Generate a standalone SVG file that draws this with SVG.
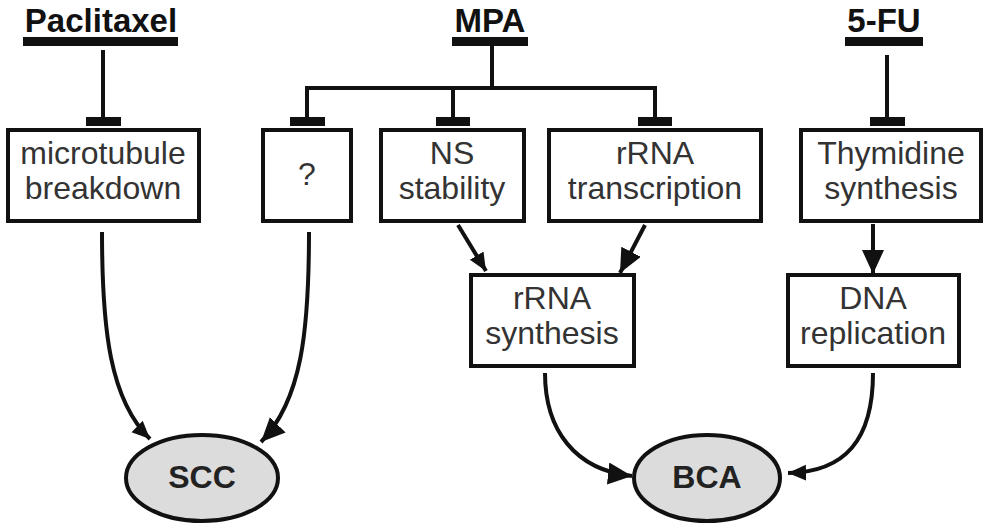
<svg xmlns="http://www.w3.org/2000/svg" width="986" height="525" viewBox="0 0 986 525">
<style>
.bg{fill:#ffffff}
.box{fill:#ffffff;stroke:#111;stroke-width:4}
.ell{fill:#dcdcdc;stroke:#111;stroke-width:4}
.lbl{font-family:"Liberation Sans",Arial,sans-serif;font-size:32px;fill:#333;text-anchor:middle}
.drug{font-family:"Liberation Sans",Arial,sans-serif;font-size:33px;font-weight:bold;fill:#111;text-anchor:middle}
.out{font-family:"Liberation Sans",Arial,sans-serif;font-size:32px;font-weight:bold;fill:#222;text-anchor:middle}
.bar{fill:#111}
.ln{fill:none;stroke:#111;stroke-width:4}
</style>
<defs>
<marker id="arrS" markerUnits="userSpaceOnUse" markerWidth="20" markerHeight="18" refX="18" refY="8" orient="auto"><path d="M0,0 L18,8 L0,16 z" fill="#111"/></marker>
<marker id="arrL" markerUnits="userSpaceOnUse" markerWidth="26" markerHeight="24" refX="24" refY="11" orient="auto"><path d="M0,0 L24,11 L0,22 z" fill="#111"/></marker>
</defs>
<rect class="bg" x="0" y="0" width="986" height="525"/>

<g id="paclitaxel">
<text class="drug" x="101" y="32">Paclitaxel</text>
<rect class="bar" x="23" y="37" width="155" height="9"/>
</g>
<g id="mpa">
<text class="drug" x="490" y="32">MPA</text>
<rect class="bar" x="452" y="37" width="76" height="9"/>
</g>
<g id="fu5">
<text class="drug" x="884" y="32">5-FU</text>
<rect class="bar" x="845" y="37" width="78" height="9"/>
</g>

<g id="microtubule">
<rect class="box" x="8" y="130" width="191" height="91"/>
<text class="lbl" x="103" y="164">microtubule</text>
<text class="lbl" x="103" y="199">breakdown</text>
</g>
<g id="unknown">
<rect class="box" x="263" y="130" width="88" height="91"/>
<text class="lbl" x="307" y="185">?</text>
</g>
<g id="ns">
<rect class="box" x="381" y="130" width="143" height="91"/>
<text class="lbl" x="452" y="164">NS</text>
<text class="lbl" x="452" y="199">stability</text>
</g>
<g id="rrnatx">
<rect class="box" x="549" y="130" width="212" height="91"/>
<text class="lbl" x="655" y="164">rRNA</text>
<text class="lbl" x="655" y="199">transcription</text>
</g>
<g id="thymidine">
<rect class="box" x="801" y="130" width="180" height="91"/>
<text class="lbl" x="891" y="164">Thymidine</text>
<text class="lbl" x="891" y="199">synthesis</text>
</g>
<g id="rrnasyn">
<rect class="box" x="471" y="275" width="163" height="91"/>
<text class="lbl" x="552" y="309">rRNA</text>
<text class="lbl" x="552" y="344">synthesis</text>
</g>
<g id="dnarep">
<rect class="box" x="788" y="275" width="171" height="91"/>
<text class="lbl" x="873" y="309">DNA</text>
<text class="lbl" x="873" y="344">replication</text>
</g>
<g id="scc">
<ellipse class="ell" cx="202" cy="478" rx="76" ry="43"/>
<text class="out" x="202" y="488">SCC</text>
</g>
<g id="bca">
<ellipse class="ell" cx="707" cy="478" rx="73" ry="43"/>
<text class="out" x="707" y="488">BCA</text>
</g>

<g id="connectors">
<path class="ln" d="M103,50 V120"/>
<rect class="bar" x="86" y="117" width="35" height="9"/>
<path class="ln" d="M492,46 V88 M305,88 H657 M307,86 V120 M453,86 V120 M655,86 V120"/>
<rect class="bar" x="290" y="117" width="35" height="9"/>
<rect class="bar" x="436" y="117" width="34" height="9"/>
<rect class="bar" x="638" y="117" width="34" height="9"/>
<path class="ln" d="M887,55 V120"/>
<rect class="bar" x="870" y="117" width="35" height="9"/>
<path class="ln" d="M458,225 L486,271" marker-end="url(#arrS)"/>
<path class="ln" d="M645,225 L620,273" marker-end="url(#arrL)"/>
<path class="ln" d="M873,224 V274" marker-end="url(#arrL)"/>
<path class="ln" d="M102,232 C102,330 110,400 150,439" marker-end="url(#arrS)"/>
<path class="ln" d="M309,232 C309,330 302,400 261,442" marker-end="url(#arrL)"/>
<path class="ln" d="M545,373 C545,430 575,470 632,476" marker-end="url(#arrL)"/>
<path class="ln" d="M873,373 C873,440 845,472 788,473" marker-end="url(#arrS)"/>
</g>
</svg>
